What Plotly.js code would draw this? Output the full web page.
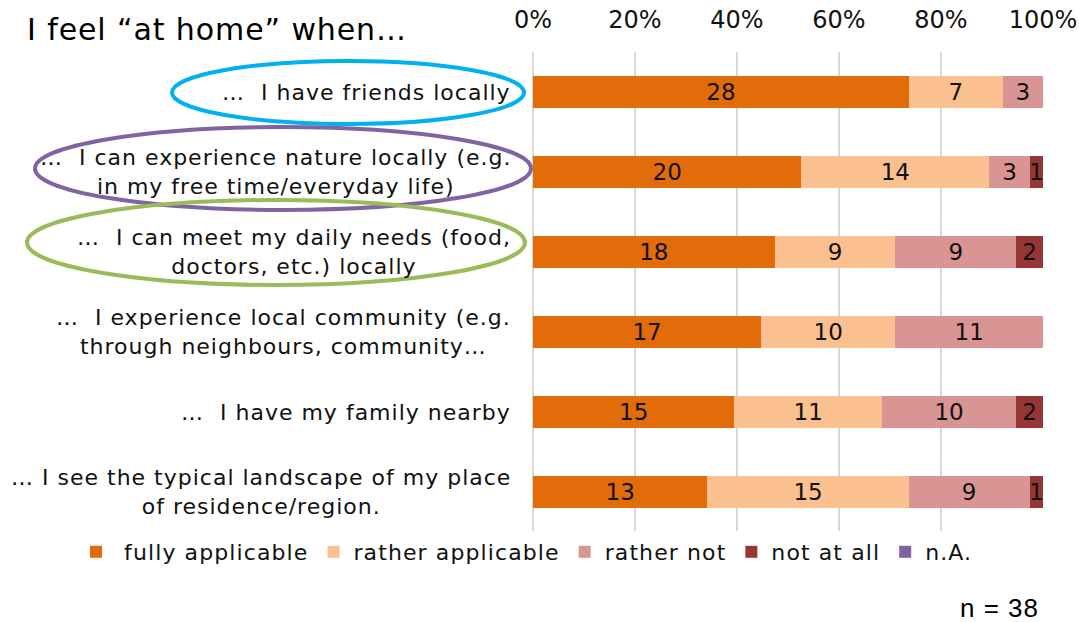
<!DOCTYPE html>
<html>
<head>
<meta charset="utf-8">
<script src="https://cdn.plot.ly/plotly-3.0.1.min.js"></script>
<style>
html,body{margin:0;padding:0;background:#fff;}
#chart{width:1079px;height:622px;}
.annotation-text{letter-spacing:1.0px;}
.legendtext{letter-spacing:1.1px;}
.gtitle{letter-spacing:0.9px;}
</style>
</head>
<body>
<div id="chart"></div>
<script>
const categories = [
  "…\u00a0 I have friends locally",
  "…\u00a0 I can experience nature locally (e.g.<br>in my free time/everyday life)",
  "…\u00a0 I can meet my daily needs (food,<br>doctors, etc.) locally",
  "…\u00a0 I experience local community (e.g.<br>through neighbours, community…",
  "…\u00a0 I have my family nearby",
  "… I see the typical landscape of my place<br>of residence/region."
];
const seriesNames = ["fully applicable", "rather applicable", "rather not", "not at all", "n.A."];
const fullyApplicable  = [28, 20, 18, 17, 15, 13];
const ratherApplicable = [7, 14, 9, 10, 11, 15];
const ratherNot        = [3, 3, 9, 11, 10, 9];
const notAtAll         = [0, 1, 2, 0, 2, 1];
const notAnswered      = [0, 0, 0, 0, 0, 0];
const xTickVals = [0, 20, 40, 60, 80, 100];
const xTickText = ["0%", "20%", "40%", "60%", "80%", "100%"];
const sampleNote = "n = 38";
const chartTitle = "I feel “at home” when…";

const colors = ["#E36C0A", "#FAC090", "#D99594", "#953735", "#8064A2"];
const allSeries = [fullyApplicable, ratherApplicable, ratherNot, notAtAll, notAnswered];

const W = 1079, H = 622;
const M = {l: 533, r: 36, t: 52, b: 90, autoexpand: false};
const px = x => (x - M.l) / (W - M.l - M.r);
const py = y => (H - M.b - y) / (H - M.t - M.b);

const traces = allSeries.map((vals, i) => ({
  type: "bar",
  orientation: "h",
  name: (i === 0 ? " " : "") + seriesNames[i],
  y: categories,
  x: vals,
  text: vals.map(v => v ? String(v) : ""),
  textposition: "inside",
  insidetextanchor: "middle",
  textangle: 0,
  constraintext: "none",
  textfont: {family: "DejaVu Sans", size: 23, color: "#111"},
  marker: {color: colors[i], line: {width: 0}},
  hoverinfo: "skip"
}));

const annotations = categories.map(c => ({
  text: c, x: 0, xref: "paper", y: c, yref: "y",
  xanchor: "right", yanchor: "middle", xshift: -20, align: "center",
  showarrow: false,
  font: {family: "DejaVu Sans", size: 22, color: "#111"}
}));
annotations.push({
  text: sampleNote, xref: "paper", yref: "paper",
  x: px(1041), y: py(608), xanchor: "right", yanchor: "middle",
  showarrow: false, font: {family: "Liberation Sans", size: 26, color: "#000"}
});

const ell = (x0, x1, y0, y1, color) => ({
  type: "circle", xref: "paper", yref: "paper",
  x0: px(x0), x1: px(x1), y0: py(y1), y1: py(y0),
  line: {color: color, width: 4}, fillcolor: "rgba(0,0,0,0)"
});

const layout = {
  width: W, height: H,
  margin: M,
  paper_bgcolor: "#fff", plot_bgcolor: "#fff",
  barmode: "stack", barnorm: "percent", bargap: 0.6,
  title: {text: chartTitle, xref: "container", yref: "container",
    x: 27 / W, xanchor: "left", y: 1 - 29 / H, yanchor: "middle",
    font: {family: "DejaVu Sans", size: 30, color: "#000"}},
  xaxis: {side: "top", range: [0, 100], tickvals: xTickVals, ticktext: xTickText,
    showgrid: true, gridcolor: "#D9D9D9", gridwidth: 2,
    zeroline: true, zerolinecolor: "#D9D9D9", zerolinewidth: 2,
    showline: false, ticks: "", ticklabelstandoff: 18,
    tickfont: {family: "DejaVu Sans", size: 24, color: "#111"}, fixedrange: true},
  yaxis: {autorange: "reversed", showticklabels: false, showgrid: false,
    zeroline: false, showline: false, ticks: "", fixedrange: true},
  showlegend: true,
  legend: {orientation: "h", xref: "paper", yref: "paper",
    x: px(76), xanchor: "left", y: py(552), yanchor: "middle",
    traceorder: "normal", itemclick: false, itemdoubleclick: false,
    font: {family: "DejaVu Sans", size: 22, color: "#111"}},
  annotations: annotations,
  shapes: [
    ell(172, 524, 61, 124, "#00B0F0"),
    ell(35, 531, 127, 210, "#8064A2"),
    ell(27, 525, 200, 285, "#9BBB59")
  ]
};

Plotly.newPlot("chart", traces, layout, {displayModeBar: false, staticPlot: true});
</script>
</body>
</html>
